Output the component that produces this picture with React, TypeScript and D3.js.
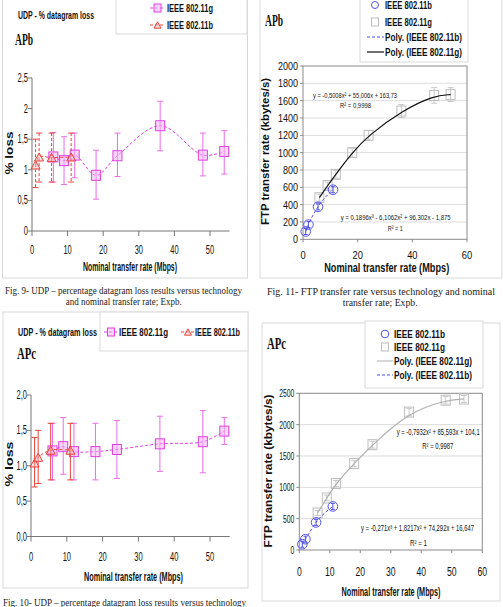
import React from "react";
import * as d3 from "d3";

const SANS = "'Liberation Sans', Arial, sans-serif";
const SERIF = "'Liberation Serif', 'Times New Roman', serif";

// ---------- data ----------
const rateG = [6, 9, 12, 18, 24, 36, 48, 54];
const rateB = [1, 2, 5.5, 11];

// UDP APb (% datagram loss)
const udpBLossG = [1.21, 1.15, 1.24, 0.91, 1.23, 1.72, 1.24, 1.3];
const udpBHiG = [1.61, 1.54, 1.6, 1.32, 1.6, 2.12, 1.6, 1.64];
const udpBLoG = [0.8, 0.76, 0.87, 0.52, 0.89, 1.31, 0.9, 0.93];
const udpBLossB = [1.08, 1.21, 1.2, 1.21];
const udpBHiB = [1.5, 1.6, 1.6, 1.6];
const udpBLoB = [0.71, 0.8, 0.8, 0.8];

// UDP APc
const udpCLossG = [1.21, 1.27, 1.2, 1.2, 1.23, 1.31, 1.34, 1.49];
const udpCHiG = [1.6, 1.68, 1.6, 1.6, 1.64, 1.7, 1.78, 1.68];
const udpCLoG = [0.8, 0.88, 0.8, 0.8, 0.82, 0.92, 0.9, 1.3];
const udpCLossB = [1.04, 1.12, 1.22, 1.22];
const udpCHiB = [1.4, 1.5, 1.6, 1.6];
const udpCLoB = [0.7, 0.75, 0.8, 0.8];

// FTP APb (kbytes/s)
const ftpBValG = [480, 620, 750, 1000, 1200, 1480, 1660, 1670];
const ftpBErrG = [40, 40, 45, 50, 55, 75, 90, 80];
const ftpBValB = [90, 170, 375, 572];

// FTP APc
const ftpCValG = [590, 830, 1060, 1380, 1680, 2200, 2390, 2410];
const ftpCErrG = [40, 45, 50, 50, 55, 60, 60, 55];
const ftpCValB = [92, 172, 440, 695];

// ticks
const udpXTicks = [0, 10, 20, 30, 40, 50];
const udpBYTicks = [0, 0.5, 1, 1.5, 2, 2.5];
const udpBYLabels = ["0", "0,5", "1", "1,5", "2", "2,5"];
const udpCYTicks = [0, 0.5, 1, 1.5, 2];
const udpCYLabels = ["0,0", "0,5", "1,0", "1,5", "2,0"];
const ftpBYTicks = [0, 200, 400, 600, 800, 1000, 1200, 1400, 1600, 1800, 2000];
const ftpBXTicks = [0, 20, 40, 60];
const ftpCYTicks = [0, 500, 1000, 1500, 2000, 2500];
const ftpCXTicks = [0, 10, 20, 30, 40, 50, 60];

// colours
const MAGENTA = "#e040e0";
const MAGENTA_ERR = "#ea6cea";
const PINK_FILL = "rgba(245,180,245,0.55)";
const RED = "#e8433c";
const RED_FILL = "rgba(250,190,190,0.45)";
const BLUE = "#5252e6";
const GRAY_MK = "#bdbdbd";
const FRAME = "#d9d9d9";

const CW: Record<string, number> = { ",": 0.278, ".": 0.278, " ": 0.278 };
const est = (s: string, size: number) =>
  [...s].reduce((a, c) => a + (CW[c] ?? 0.556), 0) * size;

function Txt(props: any) {
  const { x, y, w, size = 12, anchor = "start", weight = "normal", family = SANS, fill = "#111", rotate, children } = props;
  return (
    <text
      x={x}
      y={y}
      fontSize={size}
      textAnchor={anchor}
      fontWeight={weight}
      fontFamily={family}
      fill={fill}
      textLength={w}
      lengthAdjust="spacingAndGlyphs"
      dominantBaseline="central"
      transform={rotate ? `rotate(${rotate},${x},${y})` : undefined}
    >
      {children}
    </text>
  );
}

function ErrBar({ x, y1, y2, color, cap = 3, dash }: any) {
  return (
    <g stroke={color} strokeWidth={1}>
      <line x1={x} x2={x} y1={y1} y2={y2} strokeDasharray={dash} />
      <line x1={x - cap} x2={x + cap} y1={y1} y2={y1} />
      <line x1={x - cap} x2={x + cap} y1={y2} y2={y2} />
    </g>
  );
}

function Square({ cx, cy, stroke, fill = "none", s = 9 }: any) {
  return <rect x={cx - s / 2} y={cy - s / 2 - 0.5} width={s} height={s + 1} stroke={stroke} fill={fill} strokeWidth={1} />;
}

function Tri({ cx, cy, stroke, fill = "none", s = 9 }: any) {
  const h = s * 0.9;
  return (
    <path
      d={`M${cx},${cy - h / 2}L${cx + s / 2},${cy + h / 2}L${cx - s / 2},${cy + h / 2}Z`}
      stroke={stroke}
      fill={fill}
      strokeWidth={1}
    />
  );
}

function UdpChart({ x, y, yTicks, yLabels, lossG, hiG, loG, lossB, hiB, loB, bErrDash, labelY }: any) {
  const lineG = d3
    .line<number>()
    .x((_, i) => x(rateG[i]))
    .y((d) => y(d))
    .curve(d3.curveCatmullRom.alpha(0.5));
  const lineB = d3
    .line<number>()
    .x((_, i) => x(rateB[i]))
    .y((d) => y(d))
    .curve(d3.curveCatmullRom.alpha(0.5));
  const ax = x(0);
  const ay = y(0);
  return (
    <g>
      <line x1={ax} y1={ay} x2={ax} y2={y(yTicks[yTicks.length - 1])} stroke="#777" />
      {yTicks.map((t: number, i: number) => (
        <g key={"y" + i}>
          <line x1={ax - 4} x2={ax} y1={y(t)} y2={y(t)} stroke="#777" />
          <Txt x={ax - 4} y={y(t)} anchor="end" size={12.5} w={est(yLabels[i], 12.5) * 0.6}>
            {yLabels[i]}
          </Txt>
        </g>
      ))}
      <line x1={ax} x2={x(55.5)} y1={ay} y2={ay} stroke="#777" />
      {udpXTicks.map((t) => (
        <g key={"x" + t}>
          <line x1={x(t)} x2={x(t)} y1={ay} y2={ay + 5} stroke="#777" />
          <Txt x={x(t)} y={labelY} anchor="middle" size={12.5} w={est(String(t), 12.5) * 0.6}>
            {t}
          </Txt>
        </g>
      ))}
      {/* 802.11g */}
      {rateG.map((r, i) => (
        <ErrBar key={"eg" + i} x={x(r)} y1={y(hiG[i])} y2={y(loG[i])} color={MAGENTA_ERR} cap={3} />
      ))}
      <path d={lineG(lossG) || ""} fill="none" stroke={MAGENTA} strokeWidth={1} strokeDasharray="3,2" />
      {rateG.map((r, i) => (
        <Square key={"sg" + i} cx={x(r)} cy={y(lossG[i])} stroke={MAGENTA} fill={PINK_FILL} />
      ))}
      {/* 802.11b */}
      {rateB.map((r, i) => (
        <ErrBar key={"eb" + i} x={x(r)} y1={y(hiB[i])} y2={y(loB[i])} color={RED} cap={3} dash={bErrDash} />
      ))}
      <path d={lineB(lossB) || ""} fill="none" stroke={RED} strokeWidth={1} strokeDasharray="3,2" />
      {rateB.map((r, i) => (
        <Tri key={"tb" + i} cx={x(r)} cy={y(lossB[i])} stroke={RED} fill={RED_FILL} />
      ))}
    </g>
  );
}

function FtpChart({ x, y, yTicks, xTicks, valG, errG, valB, trendColor, ySize, yK, xSize, xK, xLabelY }: any) {
  const [xa, xb] = x.range();
  const [yb, ya] = y.range();
  const trendG = d3
    .line<number>()
    .x((_, i) => x(rateG[i]))
    .y((d) => y(d))
    .curve(d3.curveBasis);
  const trendB = d3
    .line<number>()
    .x((_, i) => x(rateB[i]))
    .y((d) => y(d))
    .curve(d3.curveMonotoneX);
  return (
    <g>
      {yTicks.slice(1, -1).map((t: number) => (
        <line key={"g" + t} x1={xa} x2={xb} y1={y(t)} y2={y(t)} stroke="#dcdcdc" />
      ))}
      <rect x={xa} y={ya} width={xb - xa} height={yb - ya} fill="none" stroke="#8a8a8a" />
      {yTicks.map((t: number) => (
        <g key={"yt" + t}>
          <line x1={xa - 3} x2={xa} y1={y(t)} y2={y(t)} stroke="#8a8a8a" />
          <Txt x={xa - 5} y={y(t)} anchor="end" size={ySize} w={est(String(t), ySize) * yK}>
            {t}
          </Txt>
        </g>
      ))}
      {xTicks.map((t: number) => (
        <g key={"xt" + t}>
          <line x1={x(t)} x2={x(t)} y1={yb} y2={yb + 3} stroke="#8a8a8a" />
          <Txt x={x(t)} y={xLabelY} anchor="middle" size={xSize} w={est(String(t), xSize) * xK}>
            {t}
          </Txt>
        </g>
      ))}
      {rateG.map((r, i) => (
        <ErrBar key={"eg" + i} x={x(r)} y1={y(valG[i] + errG[i])} y2={y(valG[i] - errG[i])} color="#c8c8c8" cap={3} />
      ))}
      {rateG.map((r, i) => (
        <Square key={"sg" + i} cx={x(r)} cy={y(valG[i])} stroke={GRAY_MK} s={9} />
      ))}
      <path d={trendG(valG) || ""} fill="none" stroke={trendColor} strokeWidth={1.2} />
      <path d={trendB(valB) || ""} fill="none" stroke={BLUE} strokeWidth={1} strokeDasharray="3,2" />
      {rateB.map((r, i) => (
        <g key={"cb" + i}>
          <line x1={x(r)} x2={x(r)} y1={y(valB[i]) - 3} y2={y(valB[i]) + 3} stroke={BLUE} />
          <line x1={x(r) - 2} x2={x(r) + 2} y1={y(valB[i]) - 3} y2={y(valB[i]) - 3} stroke={BLUE} />
          <line x1={x(r) - 2} x2={x(r) + 2} y1={y(valB[i]) + 3} y2={y(valB[i]) + 3} stroke={BLUE} />
          <circle cx={x(r)} cy={y(valB[i])} r={4.8} fill="none" stroke={BLUE} strokeWidth={1} />
        </g>
      ))}
    </g>
  );
}

export default function App() {
  const x1 = d3.scaleLinear().domain([0, 50]).range([32, 210]);
  const y1 = d3.scaleLinear().domain([0, 2.5]).range([231, 78]);
  const x3 = d3.scaleLinear().domain([0, 50]).range([31, 210]);
  const y3 = d3.scaleLinear().domain([0, 2]).range([536.5, 395]);
  const x2 = d3.scaleLinear().domain([0, 60]).range([303, 467]);
  const y2 = d3.scaleLinear().domain([0, 2000]).range([239.3, 66]);
  const x4 = d3.scaleLinear().domain([0, 60]).range([299.3, 482.3]);
  const y4 = d3.scaleLinear().domain([0, 2500]).range([550, 393.3]);

  const capFont = { family: SERIF, size: 9.5, fill: "#222" };

  return (
    <svg width={503} height={607} style={{ position: "absolute", left: 0, top: 0, background: "#fff" }}>
      <rect x={0} y={0} width={503} height={607} fill="#fff" />

      {/* ---------- Panel 1: UDP APb ---------- */}
      <rect x={2.5} y={-5} width={245} height={283} fill="none" stroke={FRAME} />
      <rect x={116} y={-2} width={131} height={36} fill="#fff" stroke={FRAME} />
      <line x1={150} x2={165} y1={8} y2={8} stroke={MAGENTA} strokeDasharray="3,2" />
      <Square cx={157.5} cy={8} stroke={MAGENTA} fill={PINK_FILL} s={7} />
      <Txt x={167} y={8} w={46} size={11.5} weight="bold">IEEE 802.11g</Txt>
      <line x1={150} x2={165} y1={25} y2={25} stroke={RED} strokeDasharray="3,2" />
      <Tri cx={157.5} cy={25} stroke={RED} fill={RED_FILL} s={7} />
      <Txt x={167} y={25} w={46} size={11.5} weight="bold">IEEE 802.11b</Txt>
      <Txt x={18} y={15} w={76} size={11.5} weight="bold">UDP - % datagram loss</Txt>
      <Txt x={15} y={39} w={18} size={16} weight="bold" family={SERIF}>APb</Txt>
      <Txt x={9} y={153} w={43} size={11.5} weight="bold" anchor="middle" rotate={-90}>% loss</Txt>
      <Txt x={130} y={267} w={94} size={12.5} weight="bold" anchor="middle">Nominal transfer rate (Mbps)</Txt>
      <UdpChart
        x={x1}
        y={y1}
        yTicks={udpBYTicks}
        yLabels={udpBYLabels}
        lossG={udpBLossG}
        hiG={udpBHiG}
        loG={udpBLoG}
        lossB={udpBLossB}
        hiB={udpBHiB}
        loB={udpBLoB}
        bErrDash="3,2"
        labelY={250}
      />
      <Txt x={123.5} y={291} w={237} anchor="middle" {...capFont}>
        Fig. 9- UDP – percentage datagram loss results versus technology
      </Txt>
      <Txt x={123.7} y={302} w={116} anchor="middle" {...capFont}>and nominal transfer rate; Expb.</Txt>

      {/* ---------- Panel 2: FTP APb ---------- */}
      <rect x={260} y={-5} width={242} height={283} fill="none" stroke={FRAME} />
      <rect x={360} y={-2} width={108} height={64} fill="#fff" stroke={FRAME} />
      <circle cx={375} cy={5} r={3.5} fill="none" stroke={BLUE} />
      <Txt x={385} y={5} w={47} size={11} weight="bold">IEEE 802.11b</Txt>
      <Square cx={375} cy={22} stroke={GRAY_MK} s={7} />
      <Txt x={385} y={22} w={47} size={11} weight="bold">IEEE 802.11g</Txt>
      <line x1={367} x2={384} y1={37} y2={37} stroke={BLUE} strokeDasharray="3,2" />
      <Txt x={385} y={37} w={77} size={11} weight="bold">Poly. (IEEE 802.11b)</Txt>
      <line x1={367} x2={384} y1={52} y2={52} stroke="#111" strokeWidth={1.2} />
      <Txt x={385} y={52} w={77} size={11} weight="bold">Poly. (IEEE 802.11g)</Txt>
      <Txt x={265} y={20} w={18} size={16} weight="bold" family={SERIF}>APb</Txt>
      <FtpChart
        x={x2}
        y={y2}
        yTicks={ftpBYTicks}
        xTicks={ftpBXTicks}
        valG={ftpBValG}
        errG={ftpBErrG}
        valB={ftpBValB}
        trendColor="#111"
        ySize={11}
        yK={0.82}
        xSize={11}
        xK={0.85}
        xLabelY={255}
      />
      <Txt x={265} y={151.5} w={147} size={11.5} weight="bold" anchor="middle" rotate={-90}>
        FTP transfer rate (kbytes/s)
      </Txt>
      <Txt x={386.7} y={268} w={125} size={12} weight="bold" anchor="middle">Nominal transfer rate (Mbps)</Txt>
      <Txt x={313} y={95} w={84} size={8}>y = -0,5008x² + 55,006x + 163,73</Txt>
      <Txt x={340} y={105} w={31} size={8}>R² = 0,9998</Txt>
      <Txt x={340.7} y={217} w={110} size={8}>y = 0,1896x³ - 6,1062x² + 96,302x - 1,875</Txt>
      <Txt x={387.7} y={228} w={15} size={8}>R² = 1</Txt>
      <Txt x={381} y={291.7} w={228} anchor="middle" {...capFont}>
        Fig. 11- FTP transfer rate versus technology and nominal
      </Txt>
      <Txt x={380.2} y={302.7} w={75} anchor="middle" {...capFont}>transfer rate; Expb.</Txt>

      {/* ---------- Panel 3: UDP APc ---------- */}
      <rect x={3} y={312} width={245} height={276} fill="none" stroke={FRAME} />
      <rect x={100} y={312} width={148} height={39} fill="#fff" stroke={FRAME} />
      <line x1={104} x2={117} y1={332} y2={332} stroke={MAGENTA} strokeDasharray="3,2" />
      <Square cx={111} cy={332} stroke={MAGENTA} fill={PINK_FILL} s={7} />
      <Txt x={119} y={332} w={49} size={11.5} weight="bold">IEEE 802.11g</Txt>
      <line x1={181} x2={194} y1={332} y2={332} stroke={RED} strokeDasharray="3,2" />
      <Tri cx={188} cy={332} stroke={RED} fill={RED_FILL} s={7} />
      <Txt x={195} y={332} w={45} size={11.5} weight="bold">IEEE 802.11b</Txt>
      <Txt x={18} y={332} w={79} size={11.5} weight="bold">UDP - % datagram loss</Txt>
      <Txt x={17} y={353} w={19} size={16} weight="bold" family={SERIF}>APc</Txt>
      <Txt x={9} y={464} w={45} size={11.5} weight="bold" anchor="middle" rotate={-90}>% loss</Txt>
      <Txt x={133.5} y={577} w={99} size={12.5} weight="bold" anchor="middle">Nominal transfer rate (Mbps)</Txt>
      <UdpChart
        x={x3}
        y={y3}
        yTicks={udpCYTicks}
        yLabels={udpCYLabels}
        lossG={udpCLossG}
        hiG={udpCHiG}
        loG={udpCLoG}
        lossB={udpCLossB}
        hiB={udpCHiB}
        loB={udpCLoB}
        bErrDash={undefined}
        labelY={557}
      />
      <Txt x={3} y={603} w={243} {...capFont}>
        Fig. 10- UDP – percentage datagram loss results versus technology
      </Txt>

      {/* ---------- Panel 4: FTP APc ---------- */}
      <rect x={262} y={323} width={238} height={278} fill="none" stroke={FRAME} />
      <rect x={365} y={321} width={118} height={67} fill="#fff" stroke={FRAME} />
      <circle cx={385} cy={334} r={3.8} fill="none" stroke={BLUE} />
      <Txt x={394} y={334} w={51} size={11} weight="bold">IEEE 802.11b</Txt>
      <Square cx={385} cy={347} stroke={GRAY_MK} s={7} />
      <Txt x={394} y={347} w={51} size={11} weight="bold">IEEE 802.11g</Txt>
      <line x1={377} x2={393} y1={361} y2={361} stroke="#b0b0b0" />
      <Txt x={394} y={361} w={78} size={11} weight="bold">Poly. (IEEE 802.11g)</Txt>
      <line x1={377} x2={393} y1={375} y2={375} stroke={BLUE} strokeDasharray="3,2" />
      <Txt x={394} y={375} w={78} size={11} weight="bold">Poly. (IEEE 802.11b)</Txt>
      <Txt x={267} y={343} w={19} size={16} weight="bold" family={SERIF}>APc</Txt>
      <FtpChart
        x={x4}
        y={y4}
        yTicks={ftpCYTicks}
        xTicks={ftpCXTicks}
        valG={ftpCValG}
        errG={ftpCErrG}
        valB={ftpCValB}
        trendColor="#b0b0b0"
        ySize={11}
        yK={0.62}
        xSize={12}
        xK={0.72}
        xLabelY={571.7}
      />
      <Txt x={268} y={471} w={153} size={11.5} weight="bold" anchor="middle" rotate={-90}>
        FTP transfer rate (kbytes/s)
      </Txt>
      <Txt x={391} y={591.7} w={99} size={12} weight="bold" anchor="middle">Nominal transfer rate (Mbps)</Txt>
      <Txt x={396.7} y={432.3} w={83} size={8.5}>y = -0,7932x² + 85,593x + 104,1</Txt>
      <Txt x={422.3} y={445.7} w={31} size={8.5}>R² = 0,9987</Txt>
      <Txt x={361} y={528.3} w={113} size={8.5}>y = -0,271x³ + 1,8217x² + 74,292x + 16,647</Txt>
      <Txt x={410} y={542.7} w={17} size={8.5}>R² = 1</Txt>
    </svg>
  );
}
